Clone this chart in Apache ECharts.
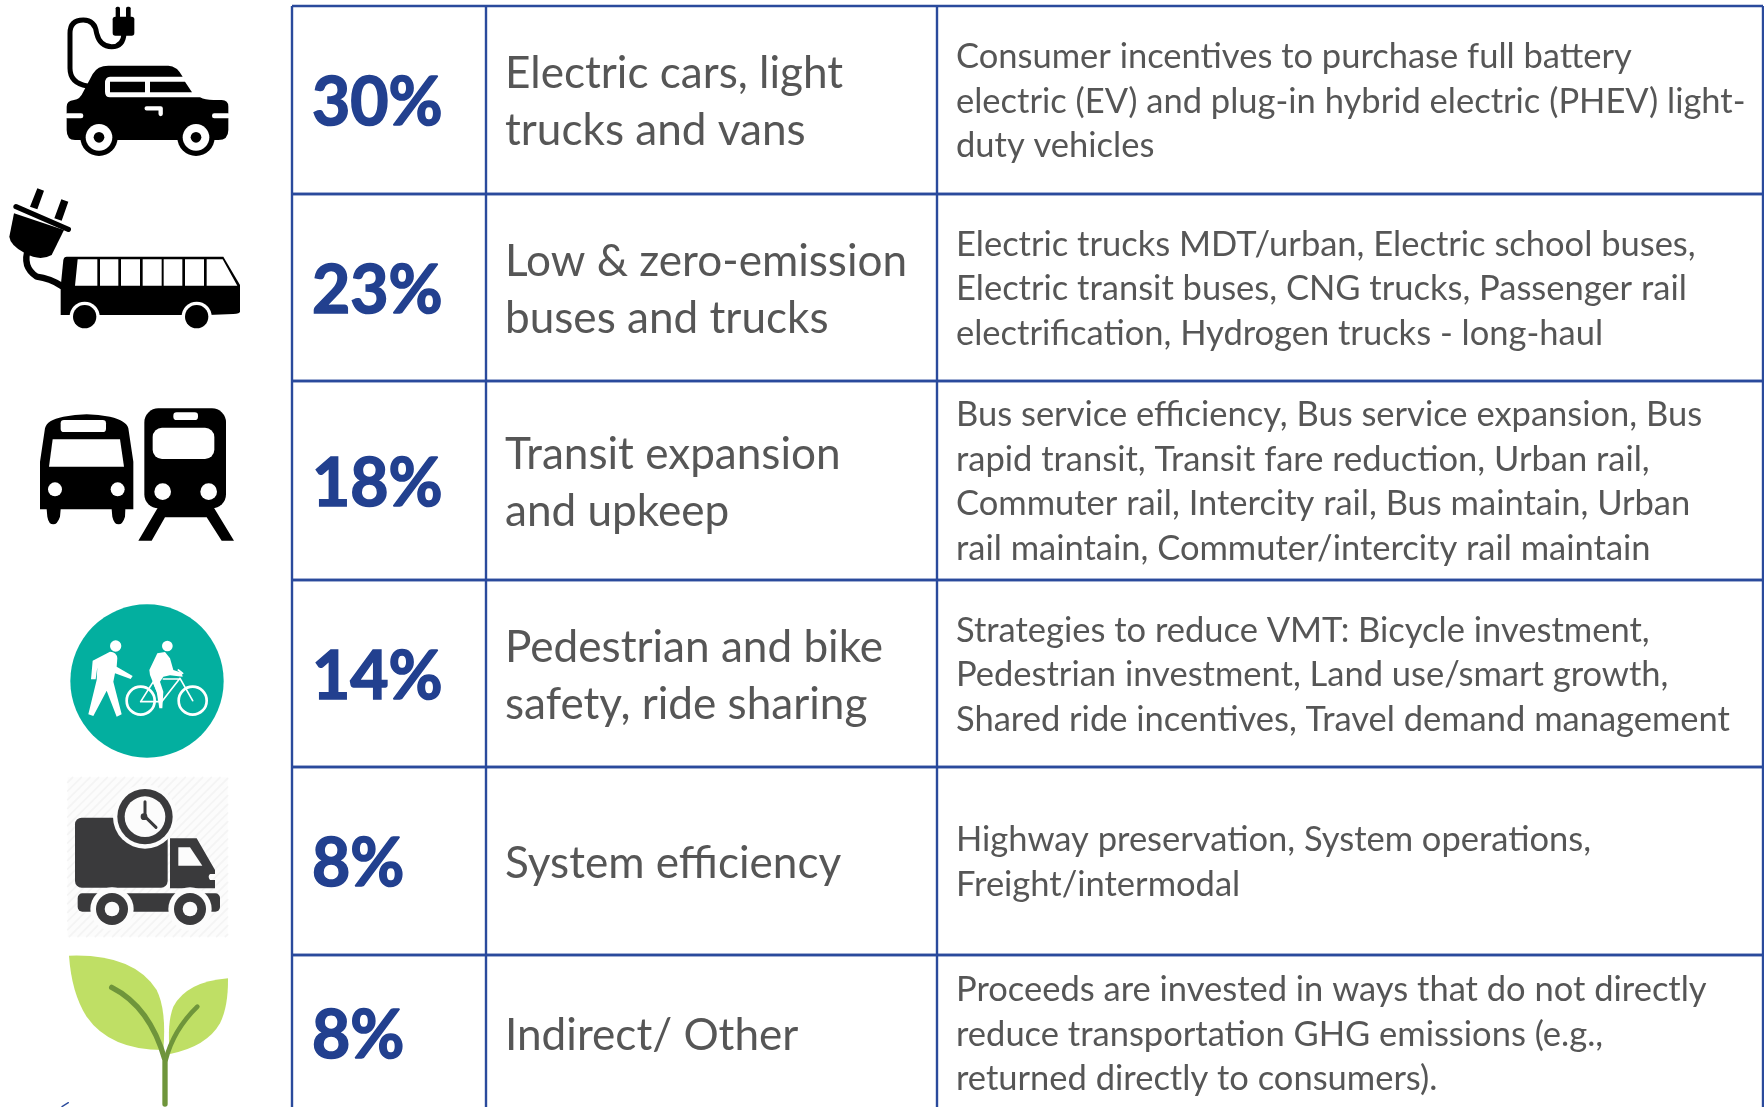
<!DOCTYPE html>
<html><head><meta charset="utf-8">
<style>html,body{margin:0;padding:0;background:#fff}#c{width:1764px;height:1107px}</style>
<script src="https://cdn.jsdelivr.net/npm/echarts@6/dist/echarts.min.js"></script>
</head><body><div id="c"></div>
<script>
const shares = [30, 23, 18, 14, 8, 8];
const groups = [
  "Electric cars, light\ntrucks and vans",
  "Low & zero-emission\nbuses and trucks",
  "Transit expansion\nand upkeep",
  "Pedestrian and bike\nsafety, ride sharing",
  "System efficiency",
  "Indirect/ Other"
];
const details = [
  "Consumer incentives to purchase full battery\nelectric (EV) and plug-in hybrid electric (PHEV) light-\nduty vehicles",
  "Electric trucks MDT/urban, Electric school buses,\nElectric transit buses, CNG trucks, Passenger rail\nelectrification, Hydrogen trucks - long-haul",
  "Bus service efficiency, Bus service expansion, Bus\nrapid transit, Transit fare reduction, Urban rail,\nCommuter rail, Intercity rail, Bus maintain, Urban\nrail maintain, Commuter/intercity rail maintain",
  "Strategies to reduce VMT: Bicycle investment,\nPedestrian investment, Land use/smart growth,\nShared ride incentives, Travel demand management",
  "Highway preservation, System operations,\nFreight/intermodal",
  "Proceeds are invested in ways that do not directly\nreduce transportation GHG emissions (e.g.,\nreturned directly to consumers)."
];
const rowEdges = [6, 194, 381, 580, 767, 955, 1111];
const colEdges = [292, 486, 937, 1763];
const LINE = '#2A4A9C', PCT = '#22408F', TXT = '#565656', FONT = 'Lato';

const P = (d, fill, stroke, w) => ({type:'path', shape:{pathData:d}, style:{fill:fill||null, stroke:stroke||null, lineWidth:w||0, lineCap:'round', lineJoin:'round'}});
const C = (cx, cy, r, fill) => ({type:'circle', shape:{cx,cy,r}, style:{fill}});
const R = (x, y, width, height, r, fill) => ({type:'rect', shape:{x,y,width,height,r}, style:{fill}});
const K = '#000', W = '#fff', DK = '#3A3A3C', TEAL = '#03AF9F', LEAF = '#BFDF65', STEM = '#6F953B', PALE = '#FCFCFC';

let stripes = '';
for (let k = 300; k < 1240; k += 26) {
  const x1 = Math.max(203, k - 560), x2 = Math.min(683, k - 82);
  if (x2 > x1) stripes += 'M' + x1 + ' ' + (k - x1) + ' L' + x2 + ' ' + (k - x2) + ' ';
}

const icons = [
 {oy:0, parts:[
  P('M262 258 Q210 250 210 205 L210 100 Q210 60 250 60 Q285 60 290 100 Q300 140 335 140 Q370 140 372 100', null, K, 15),
  R(338,50,65,57,8,K), R(347,20,13,35,5,K), R(378,20,14,35,5,K),
  P('M200 320 Q200 302 222 300 Q240 298 250 275 L278 222 Q292 197 325 197 L505 197 Q530 197 548 230 L330 230 Q315 230 315 250 L315 275 Q315 292 330 292 L600 292 Q615 300 640 300 L665 300 Q685 300 685 320 L685 390 Q685 420 655 420 L225 420 Q200 420 200 390 Z', K),
  P('M330 245 L435 245 L435 277 L330 277 Z M450 245 L555 245 L576 277 L450 277 Z', K),
  R(195,340,55,15,7,W), R(636,340,55,15,7,W),
  P('M440 325 L482 325 L482 342', null, W, 13),
  C(297,412,56,K), C(297,412,40,W), C(297,412,16,K),
  C(588,412,56,K), C(588,412,40,W), C(588,412,16,K)
 ]},
 {oy:0, parts:[
  P('M85 745 Q65 800 110 830 Q150 835 185 858', null, K, 19),
  P('M42 640 L28 710 Q30 735 75 760 Q120 785 155 765 L192 690 Z', K),
  P('M48 620 L205 688', null, K, 16),
  P('M112 565 L132 572 L112 628 L90 620 Z M184 598 L205 605 L185 662 L163 655 Z', K),
  P('M200 770 L670 770 L720 855 L720 935 Q720 940 700 942 L625 945 L182 945 L182 860 L190 780 Q192 770 200 770 Z', K),
  P('M233 778 L292 778 L292 857 L225 857 Z M300 778 L355 778 L355 857 L300 857 Z M363 778 L420 778 L420 857 L363 857 Z M428 778 L485 778 L485 857 L428 857 Z M491 778 L547 778 L547 857 L491 857 Z M555 778 L612 778 L612 857 L555 857 Z M620 778 L668 778 L712 857 L620 857 Z', W),
  C(254,950,45,W), C(590,950,45,W), C(254,950,35,K), C(590,950,35,K)
 ]},
 {oy:380, parts:[
  P('M120 388 L120 245 L135 145 Q140 120 190 110 Q260 95 330 110 Q380 122 385 145 L400 245 L400 388 L376 388 L375 410 Q368 433 356 433 Q342 433 337 410 L335 388 L182 388 L180 410 Q172 433 160 433 Q146 433 142 410 L140 388 Z', K),
  P('M158 178 L360 178 L372 260 L147 260 Z', W),
  R(182,120,136,36,10,W), C(165,328,21,W), C(353,328,21,W),
  R(433,85,245,300,42,K),
  P('M475 380 L415 482 L455 482 L495 412 L620 412 L665 482 L702 482 L640 380 Z', K),
  R(458,143,185,94,28,W), R(520,97,74,23,10,W), C(488,335,25,W), C(626,335,25,W)
 ]},
 {oy:380, parts:[
  C(441,903,230,TEAL),
  C(347,798,17,W),
  P('M278 842 L330 815 Q350 815 352 835 L350 860 L398 888 L392 897 L345 880 L340 905 L365 1003 L350 1010 L320 932 L280 1008 L265 1003 L290 900 L292 862 L287 898 L273 898 Z', W),
  C(502,798,16,W),
  P('M472 820 L495 816 L510 835 L520 870 L545 878 L548 890 L510 886 L490 890 L480 905 L490 935 L487 985 L478 985 L470 935 L450 885 L448 870 Z', W),
  P('M422 962 m-42 0 a42 42 0 1 0 84 0 a42 42 0 1 0 -84 0 M578 962 m-42 0 a42 42 0 1 0 84 0 a42 42 0 1 0 -84 0', null, W, 8),
  P('M422 965 L460 905 L485 965 Z M485 965 L540 895 L578 962 M490 897 L540 897 M535 870 L548 880', null, W, 5)
 ]},
 {oy:750, parts:[
  R(203,82,480,478,0,PALE),
  P(stripes, null, '#F4F4F4', 5),
  R(225,203,278,210,20,DK),
  C(435,200,96,PALE), C(435,200,83,DK), C(435,200,61,PALE),
  P('M435 155 L435 200 L468 232', null, DK, 9), C(432,200,10,DK),
  P('M510 265 L590 265 L645 360 L645 372 L630 372 Q622 380 630 390 L645 390 L645 415 L510 415 Z', DK),
  P('M535 292 L570 292 L607 347 L535 347 Z', PALE),
  R(233,430,427,55,14,DK),
  C(336,477,65,PALE), C(570,477,65,PALE),
  C(336,477,48,DK), C(336,477,22,PALE), C(570,477,48,DK), C(570,477,22,PALE)
 ]},
 {oy:750, parts:[
  P('M207 617 Q400 610 470 720 Q500 780 490 900 Q330 900 260 800 Q215 730 207 617 Z', LEAF),
  P('M684 685 Q560 695 520 770 Q500 820 510 912 Q620 890 660 820 Q685 770 684 685 Z', LEAF),
  P('M335 712 Q450 770 495 930 L495 1062', null, STEM, 16),
  P('M592 770 Q520 840 497 930', null, STEM, 14),
  P('M205 1058 L186 1070', null, '#2A4A9C', 4)
 ]}
];

const cellText = (x, y, text, size, color, weight, lh, halo) => ({
  type:'text', x, y,
  style:{text, x:0, y:0, fill:color, fontFamily:FONT, fontSize:size, fontWeight:weight, align:'left', verticalAlign:'middle', lineHeight:lh, stroke:halo?color:null, lineWidth:halo||0}
});

const option = {
  animation:false,
  backgroundColor:'#fff',
  grid:{left:0, right:0, top:0, bottom:0},
  xAxis:{type:'value', min:0, max:1764, show:false},
  yAxis:{type:'value', min:0, max:1107, inverse:true, show:false},
  series:[
   {
    type:'custom', coordinateSystem:'cartesian2d', silent:true,
    data: icons.map((_, i) => [0, icons[i].oy]),
    renderItem:(params, api) => {
      const o = api.coord([api.value(0), api.value(1)]);
      return {type:'group', x:o[0], y:o[1], scaleX:1/3, scaleY:1/3, children:icons[params.dataIndex].parts};
    }
   },
   {
    type:'custom', coordinateSystem:'cartesian2d', silent:true,
    data: shares.map((v, i) => [v, i]),
    renderItem:(params, api) => {
      const i = api.value(1), top = rowEdges[i], bot = rowEdges[i+1];
      const yMid = api.coord([0, (top+bot)/2])[1];
      const lines = [];
      colEdges.forEach(x => {
        const a = api.coord([x, top]), b = api.coord([x, bot]);
        lines.push({type:'line', shape:{x1:a[0], y1:a[1], x2:b[0], y2:b[1]}, style:{stroke:LINE, lineWidth:2.4}});
      });
      [top, bot].forEach(y => {
        const a = api.coord([colEdges[0], y]), b = api.coord([colEdges[3], y]);
        lines.push({type:'line', shape:{x1:a[0], y1:a[1], x2:b[0], y2:b[1]}, style:{stroke:LINE, lineWidth:2.4}});
      });
      return {type:'group', children:[
        ...lines,
        cellText(api.coord([312,0])[0], yMid+4, api.value(0)+'%', 66, PCT, 700, 70, 1.6),
        cellText(api.coord([505,0])[0], yMid+2.5, groups[i], 44.1, TXT, 400, 57),
        cellText(api.coord([956,0])[0], yMid+1.5, details[i], 34.5, TXT, 400, 44.6)
      ]};
    }
   }
  ]
};
const chart = echarts.init(document.getElementById('c'), null, {renderer:'canvas'});
chart.setOption(option);
</script></body></html>
